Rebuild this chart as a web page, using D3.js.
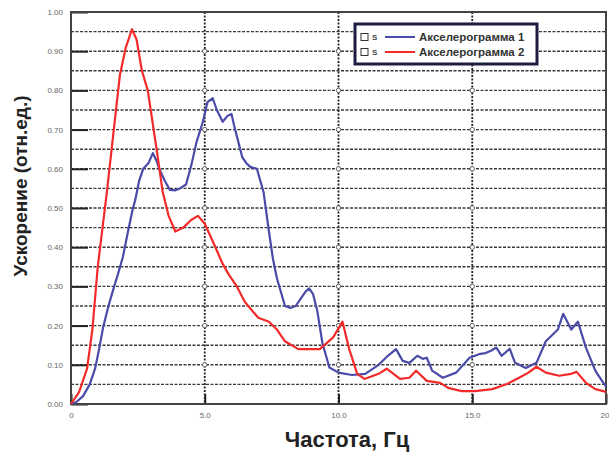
<!DOCTYPE html>
<html>
<head>
<meta charset="utf-8">
<script src="https://cdn.jsdelivr.net/npm/d3@7"></script>
<style>
  body { margin: 0; background: #fff; }
  svg { display: block; font-family: "Liberation Sans", Arial, sans-serif; }
</style>
</head>
<body>
<div id="chart"></div>
<script>
// data (frequency, Hz / acceleration, rel. units)
var series1Name = "Акселерограмма 1";
var series2Name = "Акселерограмма 2";

var freq1 = [0, 0.2, 0.45, 0.7, 0.9, 1.05, 1.2, 1.4, 1.57, 1.75, 1.94, 2.1, 2.3, 2.4, 2.55, 2.7, 2.9, 3.06, 3.2, 3.3, 3.5, 3.7, 3.9, 4.07, 4.3, 4.5, 4.7, 4.93, 5.1, 5.3, 5.45, 5.67, 5.85, 6.0, 6.1, 6.25, 6.4, 6.55, 6.7, 6.95, 7.2, 7.4, 7.55, 7.7, 8.0, 8.2, 8.4, 8.6, 8.75, 8.9, 9.05, 9.2, 9.4, 9.66, 10.0, 10.5, 11.0, 11.5, 11.8, 12.15, 12.4, 12.65, 12.95, 13.15, 13.3, 13.5, 13.9, 14.4, 14.9, 15.3, 15.5, 15.7, 15.9, 16.1, 16.4, 16.6, 17.0, 17.4, 17.75, 18.05, 18.2, 18.4, 18.7, 18.95, 19.25, 19.6, 19.9, 20];
var accel1 = [0, 0.005, 0.02, 0.05, 0.09, 0.14, 0.195, 0.25, 0.29, 0.33, 0.375, 0.43, 0.495, 0.52, 0.57, 0.60, 0.615, 0.64, 0.62, 0.60, 0.57, 0.546, 0.545, 0.55, 0.56, 0.61, 0.67, 0.72, 0.77, 0.78, 0.75, 0.72, 0.735, 0.74, 0.71, 0.67, 0.63, 0.615, 0.605, 0.60, 0.54, 0.44, 0.37, 0.32, 0.25, 0.245, 0.25, 0.27, 0.285, 0.295, 0.28, 0.24, 0.155, 0.093, 0.08, 0.074, 0.077, 0.10, 0.12, 0.14, 0.11, 0.105, 0.123, 0.115, 0.118, 0.085, 0.067, 0.08, 0.118, 0.128, 0.13, 0.136, 0.144, 0.123, 0.141, 0.105, 0.092, 0.105, 0.16, 0.18, 0.19, 0.23, 0.19, 0.21, 0.144, 0.085, 0.054, 0.045];

var freq2 = [0, 0.3, 0.6, 0.8, 1.0, 1.34, 1.6, 1.83, 2.05, 2.28, 2.45, 2.65, 2.87, 3.2, 3.43, 3.65, 3.9, 4.2, 4.5, 4.75, 5.0, 5.2, 5.4, 5.65, 5.9, 6.2, 6.5, 6.75, 7.0, 7.4, 7.7, 8.0, 8.5, 9.3, 9.8, 10.15, 10.4, 10.7, 10.97, 11.5, 11.8, 12.3, 12.65, 12.9, 13.3, 13.8, 14.1, 14.6, 15.1, 15.75, 16.3, 16.75, 17.1, 17.4, 17.75, 18.25, 18.7, 18.9, 19.25, 19.6, 19.9, 20];
var accel2 = [0, 0.03, 0.09, 0.19, 0.35, 0.54, 0.70, 0.84, 0.91, 0.956, 0.93, 0.85, 0.80, 0.65, 0.54, 0.48, 0.44, 0.45, 0.47, 0.48, 0.46, 0.43, 0.40, 0.36, 0.33, 0.30, 0.26, 0.24, 0.22, 0.21, 0.19, 0.16, 0.14, 0.14, 0.17, 0.21, 0.14, 0.077, 0.064, 0.077, 0.09, 0.064, 0.067, 0.085, 0.059, 0.054, 0.041, 0.033, 0.033, 0.038, 0.051, 0.067, 0.08, 0.095, 0.08, 0.072, 0.077, 0.082, 0.054, 0.038, 0.033, 0.03];

var xTicks = [0, 5, 10, 15, 20];
var xTickLabels = ["0", "5.0", "10.0", "15.0", "20"];
var yTicks = [0, 0.1, 0.2, 0.3, 0.4, 0.5, 0.6, 0.7, 0.8, 0.9, 1.0];
var yGrid = d3.range(1, 20).map(function(i) { return i * 0.05; });

var W = 609, H = 452;
var margin = {top: 12, right: 3, bottom: 48, left: 71};
var width = W - margin.left - margin.right,
    height = H - margin.top - margin.bottom;

var svg = d3.select("#chart").append("svg")
    .attr("width", W)
    .attr("height", H);

var g = svg.append("g")
    .attr("transform", "translate(" + margin.left + "," + margin.top + ")");

var x = d3.scaleLinear().domain([0, 20]).range([0, width]);
var y = d3.scaleLinear().domain([0, 1]).range([height, 0]);

// horizontal dotted grid every 0.05
g.append("g").selectAll("line")
  .data(yGrid)
  .enter().append("line")
    .attr("x1", 0).attr("x2", width)
    .attr("y1", function(d) { return y(d); })
    .attr("y2", function(d) { return y(d); })
    .attr("stroke", "#3a3a3a")
    .attr("stroke-width", 1.4)
    .attr("stroke-dasharray", "3,1.5");

// vertical dotted grid at 5, 10, 15
g.append("g").selectAll("line")
  .data(xTicks.slice(1, 4))
  .enter().append("line")
    .attr("x1", function(d) { return x(d); })
    .attr("x2", function(d) { return x(d); })
    .attr("y1", 0).attr("y2", height)
    .attr("stroke", "#222")
    .attr("stroke-width", 1.8)
    .attr("stroke-dasharray", "2,1.5");

// small circles where the vertical grid meets the major rows
var nodes = [];
xTicks.slice(1, 4).forEach(function(a) {
  yTicks.slice(1, 10).forEach(function(b) { nodes.push([a, b]); });
});
g.append("g").selectAll("circle")
  .data(nodes)
  .enter().append("circle")
    .attr("cx", function(d) { return x(d[0]); })
    .attr("cy", function(d) { return y(d[1]); })
    .attr("r", 2.2)
    .attr("fill", "#fff")
    .attr("stroke", "#555")
    .attr("stroke-width", 0.9);

// inward major ticks
var yAxis = d3.axisLeft(y).tickValues(yTicks).tickSize(-17).tickFormat(d3.format(".2f"));
var ya = g.append("g").call(yAxis);
ya.select(".domain").remove();
ya.selectAll(".tick line").attr("stroke", "#222").attr("stroke-width", 2);
ya.selectAll(".tick text")
    .attr("x", -8)
    .attr("fill", "#666")
    .style("font-size", "8px");

var xAxis = d3.axisBottom(x).tickValues(xTicks).tickSize(-10)
    .tickFormat(function(d, i) { return xTickLabels[i]; });
var xa = g.append("g").attr("transform", "translate(0," + height + ")").call(xAxis);
xa.select(".domain").remove();
xa.selectAll(".tick line").attr("stroke", "#222").attr("stroke-width", 2);
xa.selectAll(".tick text")
    .attr("y", 8)
    .attr("fill", "#666")
    .style("font-size", "8px");
// last label would run off the page
xa.selectAll(".tick text").filter(function(d) { return d === 20; })
    .attr("text-anchor", "end")
    .attr("x", 3);

// frame
g.append("rect")
    .attr("x", 0).attr("y", 0)
    .attr("width", width).attr("height", height)
    .attr("fill", "none")
    .attr("stroke", "#444")
    .attr("stroke-width", 2);

// curves
var line = d3.line()
    .x(function(d) { return x(d[0]); })
    .y(function(d) { return y(d[1]); });

g.append("path")
    .datum(d3.zip(freq1, accel1))
    .attr("fill", "none")
    .attr("stroke", "#4a4aa8")
    .attr("stroke-width", 2.2)
    .attr("stroke-linejoin", "round")
    .attr("d", line);

g.append("path")
    .datum(d3.zip(freq2, accel2))
    .attr("fill", "none")
    .attr("stroke", "#f22a2a")
    .attr("stroke-width", 2.2)
    .attr("stroke-linejoin", "round")
    .attr("d", line);

// legend
var leg = svg.append("g").attr("transform", "translate(355,24)");
leg.append("rect")
    .attr("width", 182).attr("height", 40)
    .attr("fill", "#fff")
    .attr("stroke", "#1d1d40")
    .attr("stroke-width", 3);
var items = [[series1Name, "#4a4aa8"], [series2Name, "#f22a2a"]];
var li = leg.selectAll(".li")
  .data(items)
  .enter().append("g")
    .attr("transform", function(d, i) { return "translate(0," + (13 + i * 15) + ")"; });
li.append("rect")
    .attr("x", 6).attr("y", -3.5).attr("width", 7).attr("height", 7)
    .attr("fill", "#fff").attr("stroke", "#333").attr("stroke-width", 1);
li.append("text")
    .attr("x", 17).attr("y", 3)
    .style("font-size", "8px").style("font-weight", "bold").attr("fill", "#444")
    .text("S");
li.append("line")
    .attr("x1", 30).attr("x2", 60)
    .attr("stroke", function(d) { return d[1]; })
    .attr("stroke-width", 2);
li.append("text")
    .attr("x", 64).attr("y", 4)
    .style("font-size", "11.5px").style("font-weight", "bold").attr("fill", "#333")
    .text(function(d) { return d[0]; });

// axis titles
svg.append("text")
    .attr("x", 347).attr("y", 447)
    .attr("text-anchor", "middle")
    .style("font-size", "22px").style("font-weight", "bold").attr("fill", "#222")
    .text("Частота, Гц");

svg.append("text")
    .attr("transform", "translate(27,186) rotate(-90)")
    .attr("text-anchor", "middle")
    .style("font-size", "19px").style("font-weight", "bold").attr("fill", "#222")
    .text("Ускорение (отн.ед.)");
</script>
</body>
</html>
